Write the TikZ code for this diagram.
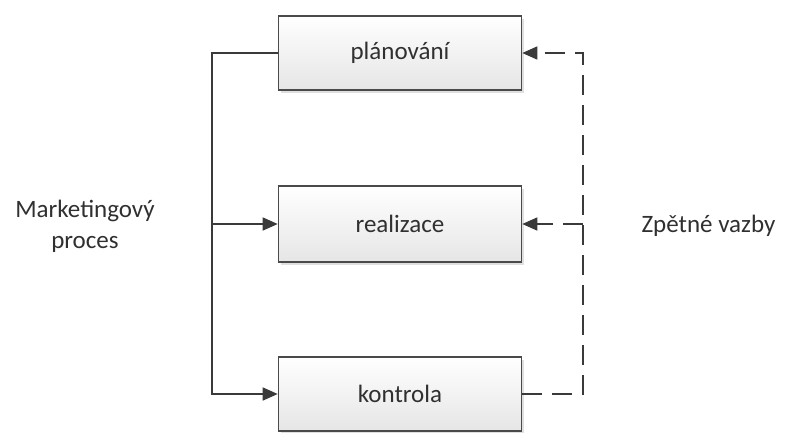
\documentclass[tikz,border=0pt]{standalone}
\usepackage{fontspec}
\setmainfont{Carlito}
\usetikzlibrary{arrows.meta,shadows}
\definecolor{linec}{HTML}{3A3A3A}
\definecolor{boxline}{HTML}{4A4A4A}
\definecolor{txt}{HTML}{303030}
\tikzset{
  procbox/.style={draw=boxline,line width=1.6pt,minimum width=243pt,minimum height=74pt,
    top color=white,bottom color=black!10,text=txt,font=\fontsize{25}{29}\selectfont,
    drop shadow={shadow xshift=2pt,shadow yshift=-2.5pt,fill=black!25,opacity=0.5}},
  conn/.style={draw=linec,line width=1.6pt},
  tip/.style={-{Triangle[length=15pt,width=13pt]}},
  dashconn/.style={conn,dash pattern=on 20pt off 10pt},
  lbl/.style={text=txt,font=\fontsize{25}{31}\selectfont,align=center}
}
\begin{document}
\begin{tikzpicture}[x=1pt,y=-1pt]
\useasboundingbox (0,0) rectangle (787,432);
\node[procbox] (p) at (400,53) {plánování};
\node[procbox,minimum height=76pt] (r) at (400,224) {realizace};
\node[procbox] (k) at (400,394) {kontrola};
\node[lbl] (mp) at (85,226) {Marketingový\\proces};
\node[lbl,anchor=west] (zv) at (638,226) {Zpětné vazby};
\coordinate (lt) at (212,53);
\coordinate (lm) at (212,224);
\coordinate (rt) at (583,53);
\coordinate (rm) at (583,224);
\draw[conn,tip] (p.west) -- (lt) |- (k.west);
\draw[conn,tip] (lm) -- (r.west);
\draw[dashconn,tip] (k.east) -| (rt) -- (p.east);
\draw[dashconn,tip] (rm) -- (r.east);
\end{tikzpicture}
\end{document}
